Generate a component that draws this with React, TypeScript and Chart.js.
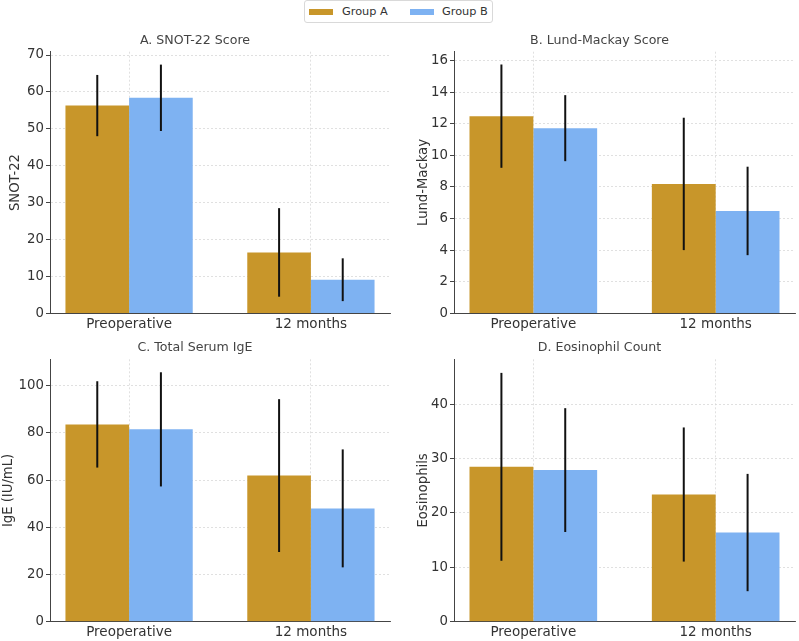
import React, { useEffect, useRef } from "react";
import { Chart, registerables } from "chart.js";

Chart.register(...registerables);
Chart.defaults.font.family = "'DejaVu Sans', sans-serif";

// ---------- data ----------
const categories = ["Preoperative", "12 months"];
const groupNames = ["Group A", "Group B"];
const groupColors = ["#C8962A", "#7EB2F2"];

const panelTitles = ["A. SNOT-22 Score", "B. Lund-Mackay Score", "C. Total Serum IgE", "D. Eosinophil Count"];
const yTitles = ["SNOT-22", "Lund-Mackay", "IgE (IU/mL)", "Eosinophils"];

const snotA = [56.3, 16.5];
const snotASd = [8.3, 12.0];
const snotB = [58.4, 9.1];
const snotBSd = [9.0, 5.8];

const lundA = [12.48, 8.19];
const lundASd = [3.27, 4.19];
const lundB = [11.72, 6.48];
const lundBSd = [2.09, 2.8];

const igeA = [83.6, 61.9];
const igeASd = [18.3, 32.4];
const igeB = [81.5, 48.0];
const igeBSd = [24.2, 25.0];

const eosA = [28.5, 23.4];
const eosASd = [17.3, 12.35];
const eosB = [27.9, 16.4];
const eosBSd = [11.4, 10.8];

const yMax = [70.9, 16.56, 111.2, 48.3];
const yStep = [10, 2, 20, 10];

// ---------- plugin ----------
const errorBarPlugin = {
  id: "errorBars",
  afterDatasetsDraw(chart: any, _args: any, opts: any) {
    const errs: number[][] = opts.errors || [];
    const ctx = chart.ctx;
    const ys = chart.scales.y;
    chart.data.datasets.forEach((ds: any, i: number) => {
      const meta = chart.getDatasetMeta(i);
      meta.data.forEach((bar: any, j: number) => {
        const v = ds.data[j].y;
        const e = errs[i][j];
        const top = ys.getPixelForValue(v + e);
        const bot = ys.getPixelForValue(v - e);
        ctx.save();
        ctx.strokeStyle = "#111";
        ctx.lineWidth = 2;
        ctx.beginPath();
        ctx.moveTo(bar.x, top);
        ctx.lineTo(bar.x, bot);
        ctx.stroke();
        ctx.restore();
      });
    });
  },
};

type PanelProps = {
  idx: number;
  a: number[];
  aSd: number[];
  b: number[];
  bSd: number[];
  left: number;
  top: number;
  width: number;
  height: number;
  chartTop: number;
  chartBottom: number;
  padRight: number;
  yTitlePad: number;
};

function Panel(p: PanelProps) {
  const ref = useRef<HTMLCanvasElement | null>(null);
  useEffect(() => {
    if (!ref.current) return;
    const step = yStep[p.idx];
    const chart = new Chart(ref.current, {
      type: "bar",
      data: {
        datasets: [
          {
            label: groupNames[0],
            data: categories.map((_, i) => ({ x: i, y: p.a[i] })),
            backgroundColor: groupColors[0],
            borderWidth: 0,
            categoryPercentage: 0.7,
            barPercentage: 1.0,
          },
          {
            label: groupNames[1],
            data: categories.map((_, i) => ({ x: i, y: p.b[i] })),
            backgroundColor: groupColors[1],
            borderWidth: 0,
            categoryPercentage: 0.7,
            barPercentage: 1.0,
          },
        ],
      },
      options: {
        responsive: false,
        animation: false,
        events: [],
        layout: { padding: { left: 0, right: p.padRight, top: 0, bottom: 0 } },
        plugins: {
          legend: { display: false },
          tooltip: { enabled: false },
          title: {
            display: true,
            text: panelTitles[p.idx],
            color: "#444",
            font: { size: 12.6, weight: "normal", lineHeight: 1.2 },
            padding: { top: 3.5, bottom: p.chartTop - 3.5 - 15.12 },
          },
          errorBars: { errors: [p.aSd, p.bSd] },
        } as any,
        scales: {
          x: {
            type: "linear",
            min: -0.435,
            max: 1.435,
            offset: false,
            grid: {
              offset: false,
              color: "#d9d9d9",
              lineWidth: 0.8,
              drawTicks: false,
            },
            border: { color: "#444", width: 1, dash: [2, 2] },
            afterBuildTicks: (scale: any) => {
              scale.ticks = categories.map((_, i) => ({ value: i }));
            },
            afterFit: (scale: any) => {
              scale.height = p.height - p.chartBottom;
            },
            ticks: {
              autoSkip: false,
              maxRotation: 0,
              padding: 3,
              color: "#333",
              font: { size: 13.5 },
              callback: (v: any) => categories[Math.round(Number(v))] ?? "",
            },
          },
          y: {
            min: 0,
            max: yMax[p.idx],
            grid: {
              color: "#d9d9d9",
              lineWidth: 0.8,
              tickLength: 4,
              tickColor: "#444",
              tickWidth: 1,
            },
            border: { color: "#444", width: 1, dash: [2, 2] },
            afterBuildTicks: (scale: any) => {
              const t: any[] = [];
              for (let v = 0; v <= yMax[p.idx] + 1e-9; v += step) t.push({ value: v });
              scale.ticks = t;
            },
            afterFit: (scale: any) => {
              scale.width = 50;
            },
            title: {
              display: true,
              text: yTitles[p.idx],
              color: "#333",
              font: { size: 13.2 },
              padding: { top: p.yTitlePad, bottom: 0 },
            },
            ticks: {
              stepSize: step,
              padding: 2,
              color: "#333",
              font: { size: 13.3 },
              callback: (v: any) => String(v),
            },
          },
        } as any,
      },
      plugins: [errorBarPlugin],
    });
    return () => chart.destroy();
  }, []);
  return (
    <canvas
      ref={ref}
      width={p.width}
      height={p.height}
      style={{ position: "absolute", left: p.left, top: p.top, width: p.width, height: p.height, display: "block" }}
    />
  );
}

export default function App() {
  return (
    <div
      style={{
        position: "fixed",
        left: 0,
        top: 0,
        width: 799,
        height: 641,
        background: "#fff",
        overflow: "hidden",
        fontFamily: "'DejaVu Sans', sans-serif",
      }}
    >
      {/* legend */}
      <div
        style={{
          position: "absolute",
          left: 304,
          top: 0,
          width: 189,
          height: 23,
          boxSizing: "border-box",
          border: "1px solid #d9d9d9",
          borderRadius: 3,
          background: "#fff",
        }}
      />
      {groupNames.map((g, i) => (
        <React.Fragment key={g}>
          <div
            style={{
              position: "absolute",
              left: i === 0 ? 309 : 410,
              top: 9,
              width: 24,
              height: 6,
              background: groupColors[i],
            }}
          />
          <div
            style={{
              position: "absolute",
              left: i === 0 ? 342 : 442,
              top: 4,
              fontSize: 11.3,
              lineHeight: "15px",
              color: "#333",
              whiteSpace: "nowrap",
            }}
          >
            {g}
          </div>
        </React.Fragment>
      ))}
      <Panel idx={0} a={snotA} aSd={snotASd} b={snotB} bSd={snotBSd}
        left={0} top={30} width={400} height={305} chartTop={21.7} chartBottom={283.3} padRight={10} yTitlePad={7.7} />
      <Panel idx={1} a={lundA} aSd={lundASd} b={lundB} bSd={lundBSd}
        left={404} top={30} width={395} height={305} chartTop={21.7} chartBottom={283.3} padRight={4} yTitlePad={11.5} />
      <Panel idx={2} a={igeA} aSd={igeASd} b={igeB} bSd={igeBSd}
        left={0} top={337} width={400} height={304} chartTop={22.3} chartBottom={284.6} padRight={10} yTitlePad={0.5} />
      <Panel idx={3} a={eosA} aSd={eosASd} b={eosB} bSd={eosBSd}
        left={404} top={337} width={395} height={304} chartTop={22.3} chartBottom={284.6} padRight={4} yTitlePad={11.5} />
    </div>
  );
}
